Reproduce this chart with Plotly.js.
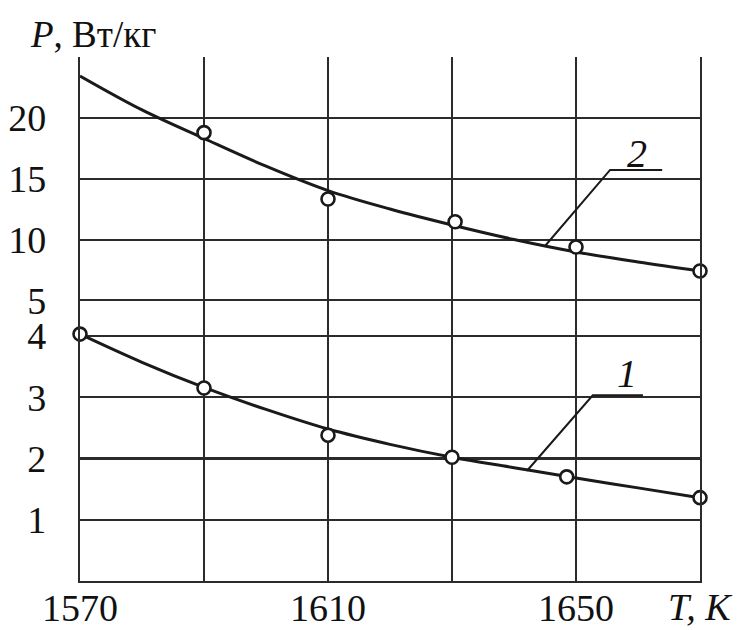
<!DOCTYPE html>
<html>
<head>
<meta charset="utf-8">
<script src="https://cdn.plot.ly/plotly-3.0.1.min.js"></script>
<style>html,body{margin:0;padding:0;background:#fff;}#chart{width:740px;height:630px;}</style>
</head>
<body>
<div id="chart"></div>
<script>
// Measured points (open circles)
const T1 = [1570, 1590, 1610, 1630, 1648.5, 1670];
const P1 = [4.03, 3.15, 2.38, 2.02, 1.70, 1.36];
const T2 = [1590, 1610, 1630.5, 1650, 1670];
const P2 = [18.8, 13.36, 11.5, 9.43, 7.46];
// Fitted curves
const Tfit = [1570, 1580, 1590, 1600, 1610, 1620, 1630, 1640, 1650, 1660, 1670];
const fit1 = [4.03, 3.57, 3.16, 2.80, 2.48, 2.23, 2.02, 1.85, 1.68, 1.52, 1.36];
const fit2 = [23.44, 20.66, 18.32, 16.05, 14.05, 12.54, 11.23, 10.04, 9.02, 8.2, 7.46];
// Ticks
const xTicks = [1570, 1590, 1610, 1630, 1650, 1670];
const xTickText = ['1570', '', '1610', '', '1650', ''];
const yLowTicks = [1, 2, 3, 4];
const yHighTicks = [5, 10, 15, 20, 25];
const yHighText = ['5', '10', '15', '20', ''];

const FONT = 'Liberation Serif, Times New Roman, serif';
const INK = '#1a1a1a';
const GRID = '#2b2b2b';

const lineStyle = {color: INK, width: 3, shape: 'spline', smoothing: 1};
const markerStyle = {symbol: 'circle', size: 13, color: '#fff', line: {color: INK, width: 2.6}};

const traces = [
  {x: Tfit, y: fit1, mode: 'lines', line: lineStyle, xaxis: 'x', yaxis: 'y', hoverinfo: 'skip'},
  {x: T1, y: P1, mode: 'markers', marker: markerStyle, xaxis: 'x', yaxis: 'y', cliponaxis: false},
  {x: Tfit, y: fit2, mode: 'lines', line: lineStyle, xaxis: 'x', yaxis: 'y2', hoverinfo: 'skip'},
  {x: T2, y: P2, mode: 'markers', marker: markerStyle, xaxis: 'x', yaxis: 'y2', cliponaxis: false}
];

const split = 280 / 524;
const axisCommon = {
  showgrid: true, gridcolor: GRID, gridwidth: 2.2,
  showline: true, linecolor: GRID, linewidth: 2.2, mirror: true,
  zeroline: false, ticks: '', color: '#111',
  tickfont: {family: FONT, size: 38, color: '#111'}
};

const layout = {
  width: 740, height: 630,
  margin: {l: 80, r: 40, t: 57, b: 49},
  paper_bgcolor: '#fff', plot_bgcolor: '#fff',
  showlegend: false,
  xaxis: Object.assign({}, axisCommon, {
    range: [1570, 1670], tickmode: 'array', tickvals: xTicks, ticktext: xTickText,
    anchor: 'y', ticklabelstandoff: -8
  }),
  yaxis: Object.assign({}, axisCommon, {
    domain: [0, split], range: [0, 4.57], tickmode: 'array', tickvals: yLowTicks,
    ticklabelstandoff: 24, anchor: 'x'
  }),
  yaxis2: Object.assign({}, axisCommon, {
    domain: [split, 1], range: [5, 25], tickmode: 'array', tickvals: yHighTicks, ticktext: yHighText,
    ticklabelstandoff: 24, anchor: 'x'
  }),
  shapes: [
    {type: 'path', xref: 'x', yref: 'y2', path: 'M1645,9.51 L1655.5,15.74 L1663.9,15.74', line: {color: INK, width: 2}},
    {type: 'path', xref: 'x', yref: 'y', path: 'M1642.1,1.80 L1652.7,3.03 L1660.8,3.03', line: {color: INK, width: 2}}
  ],
  annotations: [
    {xref: 'paper', yref: 'paper', x: -0.084, y: 1.042, xanchor: 'left', yanchor: 'middle', showarrow: false,
     text: '<i>P</i>, Вт/кг', font: {family: FONT, size: 37, color: '#111'}},
    {xref: 'paper', yref: 'paper', x: 1.055, y: -0.05, xanchor: 'right', yanchor: 'middle', showarrow: false,
     text: '<i>T, K</i>', font: {family: FONT, size: 38, color: '#111'}},
    {xref: 'x', yref: 'y2', x: 1659.8, y: 17.1, showarrow: false, text: '<i>2</i>',
     font: {family: FONT, size: 40, color: '#111'}},
    {xref: 'x', yref: 'y', x: 1658.2, y: 3.39, showarrow: false, text: '<i>1</i>',
     font: {family: FONT, size: 40, color: '#111'}}
  ]
};

Plotly.newPlot('chart', traces, layout, {staticPlot: true, displayModeBar: false});
</script>
</body>
</html>
